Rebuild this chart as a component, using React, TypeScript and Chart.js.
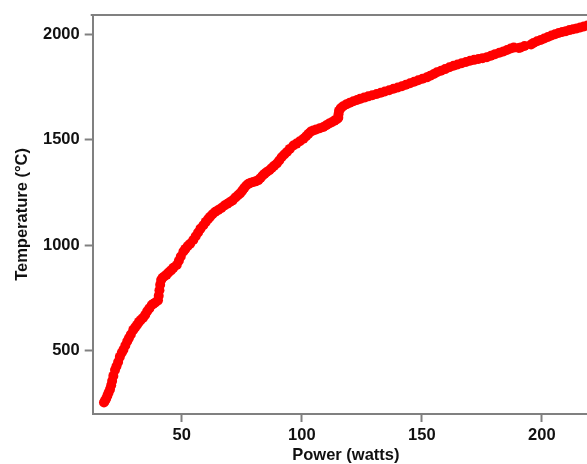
import { useEffect, useRef } from 'react';
import { Chart, registerables } from 'chart.js';

Chart.register(...registerables);

const powerW = [
  17.6, 18.0, 18.5, 19.0, 19.5, 20.1, 20.6, 21.0, 21.5, 22.2, 22.8, 23.5, 24.2, 25.0, 25.7, 26.5, 27.3, 28.0, 28.8, 29.8,
  30.6, 31.4, 32.2, 33.0, 33.9, 34.8, 35.6, 36.5, 37.5, 38.2, 39.0, 40.1, 40.4, 40.7, 41.0, 41.4, 42.0, 42.8, 43.7, 44.5,
  45.5, 46.5, 47.9, 48.8, 49.6, 50.7, 51.5, 52.5, 53.5, 54.8, 55.8, 56.8, 57.8, 59.0, 60.0, 61.0, 61.8, 62.8, 64.0, 65.2,
  66.5, 67.8, 69.0, 70.1, 71.2, 72.4, 73.4, 74.3, 75.2, 76.0, 76.9, 77.8, 78.8, 79.8, 80.8, 81.9, 82.8, 83.7, 84.5, 85.4,
  86.5, 87.5, 88.5, 89.6, 90.6, 91.6, 92.7, 93.8, 95.0, 96.5, 97.8, 99.2, 100.7, 101.8, 102.8, 103.8, 104.8, 106.0, 107.5, 109.0,
  110.2, 111.4, 112.5, 113.6, 114.6, 115.2, 115.3, 115.5, 116.2, 117.2, 118.7, 120.0, 121.5, 123.0, 124.3, 126.0, 127.7, 129.4, 131.2, 132.9,
  134.6, 136.4, 138.2, 140.0, 141.7, 143.4, 145.1, 146.8, 148.5, 150.3, 152.1, 153.5, 155.0, 156.3, 158.0, 159.7, 161.5, 163.2, 164.9, 166.6,
  168.4, 170.1, 171.8, 173.6, 175.3, 177.1, 178.8, 180.5, 182.3, 184.0, 185.5, 187.0, 188.3, 190.4, 191.2, 192.8, 195.5, 196.5, 198.0, 199.5,
  201.0, 202.5, 204.0, 205.5, 207.0, 208.5, 210.0, 211.5, 213.0, 214.5, 216.0, 217.5, 219.0, 220.5,
];

const tempC = [
  254, 262, 272, 286, 300, 316, 336, 356, 380, 408, 426, 446, 470, 490, 504, 524, 544, 560, 576, 598,
  610, 622, 636, 646, 656, 670, 686, 700, 716, 722, 728, 738, 760, 786, 812, 834, 845, 852, 860, 870,
  880, 892, 906, 926, 946, 970, 982, 996, 1006, 1024, 1042, 1060, 1078, 1094, 1110, 1124, 1134, 1146, 1158, 1166,
  1176, 1188, 1196, 1204, 1212, 1226, 1236, 1245, 1258, 1270, 1282, 1291, 1296, 1299, 1302, 1308, 1318, 1330, 1338, 1346,
  1355, 1365, 1376, 1387, 1401, 1416, 1429, 1441, 1456, 1472, 1481, 1492, 1504, 1516, 1528, 1538, 1543, 1548, 1554, 1560,
  1568, 1576, 1582, 1590, 1596, 1604, 1620, 1636, 1648, 1658, 1668, 1675, 1682, 1688, 1693, 1699, 1705, 1710, 1716, 1722,
  1728, 1734, 1741, 1747, 1753, 1760, 1767, 1774, 1781, 1788, 1795, 1803, 1811, 1819, 1826, 1834, 1843, 1850, 1856, 1862,
  1868, 1874, 1878, 1882, 1886, 1890, 1897, 1905, 1912, 1918, 1925, 1932, 1936, 1934, 1937, 1944, 1951, 1958, 1966, 1972,
  1979, 1986, 1993, 1999, 2005, 2010, 2014, 2019, 2023, 2027, 2031, 2036, 2041, 2046,
];

const xTickValues = [50, 100, 150, 200];
const yTickValues = [500, 1000, 1500, 2000];
const xTitle = 'Power (watts)';
const yTitle = 'Temperature (°C)';

export default function App() {
  const ref = useRef<HTMLCanvasElement>(null);

  useEffect(() => {
    const axisColor = '#808080';
    const textColor = '#111111';
    const family = '"Liberation Sans", Arial, Helvetica, sans-serif';
    const font = { family, size: 16.5, weight: 'bold' as const };

    const frame = {
      id: 'frame',
      afterDraw(chart: any) {
        const { ctx, chartArea } = chart;
        const { left, right, top, bottom } = chartArea;
        ctx.save();
        ctx.strokeStyle = axisColor;
        ctx.lineWidth = 2;
        ctx.beginPath();
        ctx.moveTo(left - 2, top);
        ctx.lineTo(right, top);
        ctx.lineTo(right, bottom);
        ctx.stroke();
        ctx.restore();
      },
    };

    const chart = new Chart(ref.current as HTMLCanvasElement, {
      type: 'scatter',
      data: {
        datasets: [
          {
            data: powerW.map((x, i) => ({ x, y: tempC[i] })),
            backgroundColor: '#ff0000',
            borderColor: '#ff0000',
            borderWidth: 0,
            pointRadius: 5,
            pointHoverRadius: 5,
          },
        ],
      },
      options: {
        animation: false,
        responsive: false,
        events: [],
        layout: { padding: { top: 14, right: 11, left: 0, bottom: 0 } },
        plugins: { legend: { display: false }, tooltip: { enabled: false } },
        scales: {
          x: {
            type: 'linear',
            min: 12.9,
            max: 223.8,
            afterBuildTicks: (s: any) => {
              s.ticks = xTickValues.map((v) => ({ value: v }));
            },
            afterFit: (s: any) => {
              s.height = 50;
            },
            grid: { drawOnChartArea: false, tickLength: 8, tickColor: axisColor, tickWidth: 2 },
            border: { color: axisColor, width: 2 },
            ticks: { color: textColor, font, padding: 4, maxRotation: 0, callback: (v: any) => String(v) },
            title: { display: true, text: xTitle, color: textColor, font: { ...font, lineHeight: 1 }, padding: 0 },
          },
          y: {
            type: 'linear',
            min: 199.4,
            max: 2091,
            afterBuildTicks: (s: any) => {
              s.ticks = yTickValues.map((v) => ({ value: v }));
            },
            afterFit: (s: any) => {
              s.width = 92.7;
            },
            grid: { drawOnChartArea: false, tickLength: 8, tickColor: axisColor, tickWidth: 2 },
            border: { color: axisColor, width: 2 },
            ticks: { color: textColor, font, padding: 5, callback: (v: any) => String(v) },
            title: {
              display: true,
              text: yTitle,
              color: textColor,
              font: { ...font, lineHeight: 1 },
              padding: { top: 14, bottom: 0 },
            },
          },
        },
      },
      plugins: [frame],
    });

    return () => chart.destroy();
  }, []);

  return (
    <div
      style={{
        position: 'fixed',
        left: 0,
        top: 0,
        width: 587,
        height: 464,
        overflow: 'hidden',
        background: '#ffffff',
      }}
    >
      <canvas ref={ref} width={610} height={464} style={{ display: 'block' }} />
    </div>
  );
}
